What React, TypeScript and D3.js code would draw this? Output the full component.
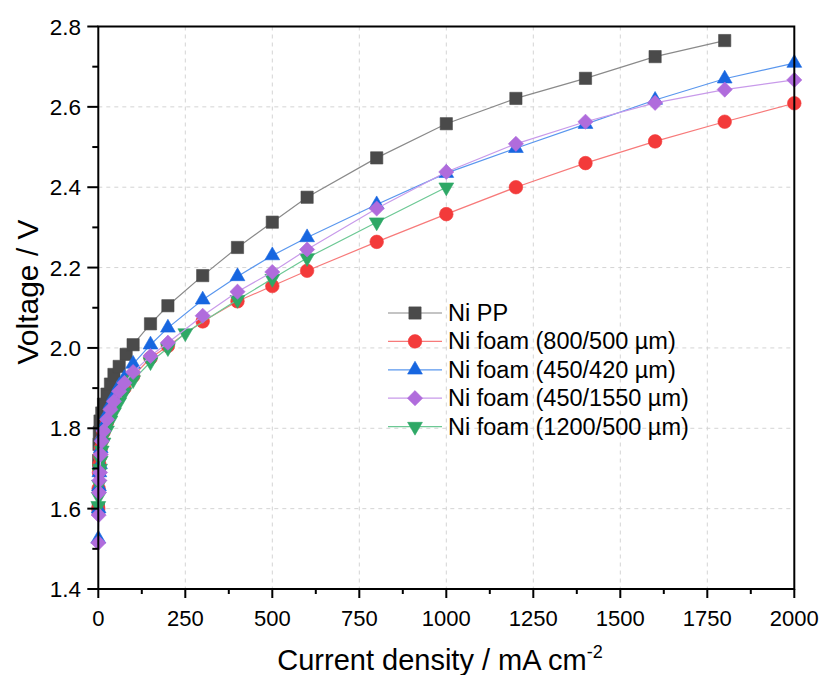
import React from "react";
import * as d3 from "d3";

const xTicks = [0, 250, 500, 750, 1000, 1250, 1500, 1750, 2000];
const yTicks = [1.4, 1.6, 1.8, 2.0, 2.2, 2.4, 2.6, 2.8];

const ppI = [0, 1, 2, 3, 5, 10, 15, 25, 35, 45, 60, 80, 100, 150, 200, 300, 400, 500, 600, 800, 1000, 1200, 1400, 1600, 1800];
const ppV = [1.6, 1.72, 1.76, 1.79, 1.818, 1.838, 1.86, 1.885, 1.91, 1.934, 1.954, 1.984, 2.008, 2.06, 2.105, 2.18, 2.25, 2.313, 2.375, 2.473, 2.558, 2.621, 2.671, 2.725, 2.765];

const redI = [0, 1, 2, 3, 5, 7, 10, 15, 25, 35, 45, 60, 75, 100, 150, 200, 300, 400, 500, 600, 800, 1000, 1200, 1400, 1600, 1800, 2000];
const redV = [1.6, 1.65, 1.69, 1.71, 1.73, 1.75, 1.77, 1.79, 1.815, 1.84, 1.86, 1.88, 1.9, 1.93, 1.975, 2.005, 2.066, 2.116, 2.154, 2.192, 2.264, 2.333, 2.4, 2.46, 2.514, 2.563, 2.609];

const blueI = [0, 1, 2, 3, 5, 7, 10, 15, 25, 35, 45, 60, 75, 100, 150, 200, 300, 400, 500, 600, 800, 1000, 1200, 1400, 1600, 1800, 2000];
const blueV = [1.525, 1.6, 1.655, 1.69, 1.71, 1.75, 1.78, 1.805, 1.835, 1.86, 1.88, 1.905, 1.925, 1.96, 2.008, 2.05, 2.12, 2.178, 2.23, 2.275, 2.357, 2.435, 2.497, 2.557, 2.617, 2.67, 2.709];

const greenI = [0, 1, 2, 3, 5, 7, 10, 15, 25, 35, 45, 60, 75, 100, 150, 200, 250, 400, 500, 600, 800, 1000];
const greenV = [1.607, 1.63, 1.66, 1.69, 1.7, 1.72, 1.745, 1.765, 1.795, 1.82, 1.84, 1.865, 1.89, 1.92, 1.965, 2.0, 2.037, 2.12, 2.172, 2.224, 2.313, 2.4];

const purpleI = [0, 1, 2, 3, 5, 7, 10, 15, 25, 35, 45, 60, 75, 100, 150, 200, 300, 400, 500, 600, 800, 1000, 1200, 1400, 1600, 1800, 2000];
const purpleV = [1.515, 1.584, 1.64, 1.67, 1.69, 1.735, 1.768, 1.793, 1.822, 1.847, 1.867, 1.892, 1.913, 1.94, 1.98, 2.013, 2.08, 2.14, 2.189, 2.245, 2.347, 2.438, 2.508, 2.563, 2.61, 2.643, 2.667];

const legendNames = ["Ni PP", "Ni foam (800/500 µm)", "Ni foam (450/420 µm)", "Ni foam (450/1550 µm)", "Ni foam (1200/500 µm)"];

type S = { name: string; I: number[]; V: number[]; fill: string; line: string; shape: string };

const series: S[] = [
  { name: legendNames[0], I: ppI, V: ppV, fill: "#4a4a4a", line: "#8a8a8a", shape: "square" },
  { name: legendNames[1], I: redI, V: redV, fill: "#f33a3a", line: "#f77a7a", shape: "circle" },
  { name: legendNames[2], I: blueI, V: blueV, fill: "#1766e0", line: "#5a97ee", shape: "triangle" },
  { name: legendNames[3], I: purpleI, V: purpleV, fill: "#b06cdc", line: "#c89aea", shape: "diamond" },
  { name: legendNames[4], I: greenI, V: greenV, fill: "#2ea866", line: "#6cc894", shape: "down" },
];
const drawOrder = [0, 1, 2, 4, 3];

const L = 98.3, R = 794.3, T = 26.5, B = 589;
const x = d3.scaleLinear().domain([0, 2000]).range([L, R]);
const y = d3.scaleLinear().domain([1.4, 2.8]).range([B, T]);

function symPath(shape: string): { d: string; rot: number } {
  if (shape === "square") return { d: d3.symbol(d3.symbolSquare, 150)()!, rot: 0 };
  if (shape === "circle") return { d: d3.symbol(d3.symbolCircle, 145)()!, rot: 0 };
  if (shape === "triangle") return { d: d3.symbol(d3.symbolTriangle, 95)()!, rot: 0 };
  if (shape === "down") return { d: d3.symbol(d3.symbolTriangle, 95)()!, rot: 180 };
  return { d: d3.symbol(d3.symbolSquare, 115)()!, rot: 45 };
}

const font = "'Liberation Sans', Arial, Helvetica, sans-serif";

export default function App() {
  const xMinor = d3.range(125, 2000, 250);
  const yMinor = d3.range(1.5, 2.8, 0.2);
  return (
    <svg width={820} height={675} style={{ position: "absolute", left: 0, top: 0, background: "#fff" }} fontFamily={font}>
      <rect x={0} y={0} width={820} height={675} fill="#fff" />
      {xTicks.slice(1, -1).map((t) => (
        <line key={"gx" + t} x1={x(t)} x2={x(t)} y1={T} y2={B} stroke="#d4d4d4" strokeDasharray="4,4" strokeWidth={1} />
      ))}
      {yTicks.slice(1, -1).map((t) => (
        <line key={"gy" + t} x1={L} x2={R} y1={y(t)} y2={y(t)} stroke="#d4d4d4" strokeDasharray="4,4" strokeWidth={1} />
      ))}
      {drawOrder.map((i) => {
        const s = series[i];
        const pts = s.I.map((c, k) => [x(c), y(s.V[k])] as [number, number]);
        const d = d3.line()(pts) || "";
        const sp = symPath(s.shape);
        return (
          <g key={s.name}>
            <path d={d} fill="none" stroke={s.line} strokeWidth={1.2} />
            {pts.map((p, k) => (
              <path key={k} d={sp.d} transform={`translate(${p[0]},${p[1]}) rotate(${sp.rot})`} fill={s.fill} stroke={s.fill} strokeWidth={0.6} />
            ))}
          </g>
        );
      })}
      <rect x={L} y={T} width={R - L} height={B - T} fill="none" stroke="#000" strokeWidth={2} />
      {xTicks.map((t) => (
        <g key={"xt" + t}>
          <line x1={x(t)} x2={x(t)} y1={B} y2={B + 9} stroke="#000" strokeWidth={2} />
          <text x={x(t)} y={626} textAnchor="middle" fontSize={22} fill="#000">{t}</text>
        </g>
      ))}
      {xMinor.map((t) => (
        <line key={"xm" + t} x1={x(t)} x2={x(t)} y1={B} y2={B + 5} stroke="#000" strokeWidth={2} />
      ))}
      {yTicks.map((t) => (
        <g key={"yt" + t}>
          <line x1={L - 11} x2={L} y1={y(t)} y2={y(t)} stroke="#000" strokeWidth={2} />
          <text x={81} y={y(t) + 8} textAnchor="end" fontSize={22.5} fill="#000">{t.toFixed(1)}</text>
        </g>
      ))}
      {yMinor.map((t) => (
        <line key={"ym" + t} x1={L - 6} x2={L} y1={y(t)} y2={y(t)} stroke="#000" strokeWidth={2} />
      ))}
      <text x={440} y={670} textAnchor="middle" fontSize={29} fill="#000">
        Current density / mA cm<tspan dy={-12} fontSize={18}>-2</tspan>
      </text>
      <text transform="translate(38,292) rotate(-90)" textAnchor="middle" fontSize={30} fill="#000">Voltage / V</text>
      {series.map((s, i) => {
        const cy = 313 + i * 28.4;
        const sp = symPath(s.shape);
        return (
          <g key={"lg" + i}>
            <line x1={388} x2={442} y1={cy} y2={cy} stroke={s.line} strokeWidth={1.2} />
            <path d={sp.d} transform={`translate(415,${cy}) rotate(${sp.rot})`} fill={s.fill} stroke={s.fill} strokeWidth={0.6} />
            <text x={448} y={cy + 8} fontSize={23.5} fill="#000">{s.name}</text>
          </g>
        );
      })}
    </svg>
  );
}
